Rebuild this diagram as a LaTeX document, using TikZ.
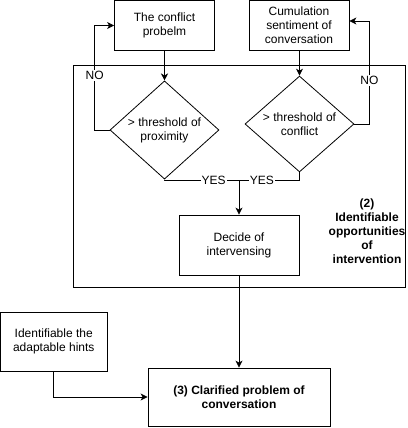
\documentclass[tikz,border=0pt]{standalone}
\usepackage{fontspec}
\setmainfont{Liberation Sans}
\usetikzlibrary{shapes.geometric,arrows.meta}
\begin{document}
\begin{tikzpicture}[x=1pt,y=-1pt,
  every node/.style={font=\fontsize{12}{14}\selectfont, align=center},
  box/.style={draw, line width=0.8pt, inner sep=0pt},
  dia/.style={draw, line width=0.8pt, diamond, inner sep=0pt, minimum width=109pt, minimum height=80pt},
  conn/.style={line width=0.8pt},
  arr/.style={conn, -{Stealth[length=7pt,width=7pt,inset=2pt]}},
  lbl/.style={fill=white, inner sep=1pt}]
\useasboundingbox (0,0) rectangle (407,428);
\node[box, minimum width=332pt, minimum height=222pt] (cont) at (239.5,176.5) {};
\node[box, minimum width=100pt, minimum height=50pt] (b1) at (164.5,25.5) {The conflict\\probelm};
\node[box, minimum width=100pt, minimum height=50pt] (b2) at (299,25.5) {Cumulation\\sentiment of\\conversation};
\node[dia] (d1) at (164.5,130) {\textgreater{} threshold of\\proximity};
\node[dia] (d2) at (299.5,124) {\textgreater{} threshold of\\conflict};
\node[box, minimum width=120pt, minimum height=60pt] (dec) at (239,245) {Decide of\\intervensing};
\node[font=\fontsize{12}{14}\selectfont\bfseries] (lab) at (367,231) {(2)\\Identifiable\\opportunities\\of\\intervention};
\node[box, minimum width=182pt, minimum height=58pt, font=\fontsize{12}{14}\selectfont\bfseries] (clar) at (239,397) {(3) Clarified problem of\\conversation};
\node[box, minimum width=106.5pt, minimum height=59pt] (hint) at (53.75,341.5) {Identifiable the\\adaptable hints};
\coordinate (m) at (239,180);
\draw[arr] (b1) -- (d1);
\draw[arr] (b2.south -| d2.north) -- (d2.north);
\draw[arr] (d1.west) -- ++(-15,0) |- node[lbl,pos=0.26]{NO} (b1.west);
\draw[arr] (d2.east) -- ++(15,0) |- node[lbl,pos=0.21]{NO} ([yshift=4.5pt]b2.east);
\draw[conn] (d1.south) |- node[lbl,pos=0.83]{YES} (m);
\draw[conn] (d2.south) |- node[lbl,pos=0.81]{YES} (m);
\draw[arr] (m) -- (dec);
\draw[arr] (dec) -- (clar);
\draw[arr] (hint.south) |- (clar.west);
\end{tikzpicture}
\end{document}
